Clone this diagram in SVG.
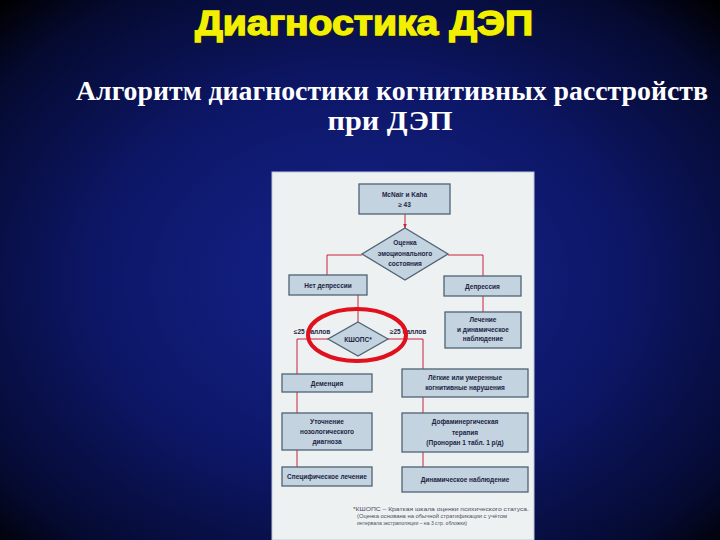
<svg xmlns="http://www.w3.org/2000/svg" width="720" height="540" viewBox="0 0 720 540">
<defs>
<radialGradient id="bg" cx="50%" cy="52%" r="72%">
<stop offset="0" stop-color="#15238c"/>
<stop offset="0.5" stop-color="#0d1768"/>
<stop offset="0.85" stop-color="#050a30"/>
<stop offset="1" stop-color="#000000"/>
</radialGradient>
<marker id="arr" viewBox="0 0 10 10" refX="9" refY="5" markerWidth="5" markerHeight="5" orient="auto">
<path d="M0,1 L10,5 L0,9 z" fill="#c8233a"/>
</marker>
<style>
.box{fill:#c3d3df;stroke:#4e6373;stroke-width:1.3}
.t{font-family:"Liberation Sans",Arial,sans-serif;font-size:6.5px;font-weight:bold;fill:#1c2444;text-anchor:middle}
.c{fill:none;stroke:#c8233a;stroke-width:1}
.fn{font-family:"Liberation Sans",Arial,sans-serif;font-size:5px;fill:#4a5060}
</style>
</defs>
<rect x="0" y="0" width="720" height="540" fill="url(#bg)"/>

<g id="title">
<text x="364" y="35" font-family="'Liberation Sans',Arial,sans-serif" font-size="35" font-weight="bold" fill="#1a1a1a" stroke="#1a1a1a" stroke-width="1.4" text-anchor="middle" textLength="338" lengthAdjust="spacingAndGlyphs" opacity="0.6" transform="translate(1.5,1.5)">Диагностика ДЭП</text>
<text x="364" y="35" font-family="'Liberation Sans',Arial,sans-serif" font-size="35" font-weight="bold" fill="#f2f000" stroke="#f2f000" stroke-width="1.4" text-anchor="middle" textLength="338" lengthAdjust="spacingAndGlyphs">Диагностика ДЭП</text>
</g>
<g id="subtitle" font-family="'Liberation Serif','Times New Roman',serif" font-size="28" font-weight="bold" fill="#ffffff">
<text x="76" y="100" textLength="632" lengthAdjust="spacingAndGlyphs">Алгоритм диагностики когнитивных расстройств</text>
<text x="390" y="130" text-anchor="middle" textLength="125" lengthAdjust="spacingAndGlyphs">при ДЭП</text>
</g>

<rect id="panel" x="272" y="172" width="262" height="368" fill="#eef1f2" stroke="#b8c8d8" stroke-width="1"/>

<g id="connectors">
<line class="c" x1="405" y1="214" x2="405" y2="228" marker-end="url(#arr)"/>
<polyline class="c" points="362,255 327,255 327,275"/>
<polyline class="c" points="448,255 483,255 483,276"/>
<line class="c" x1="483" y1="296" x2="483" y2="312"/>
<line class="c" x1="358" y1="295" x2="358" y2="322"/>
<polyline class="c" points="328,339 297,339 297,374"/>
<polyline class="c" points="388,339 423,339 423,369"/>
<line class="c" x1="297" y1="392" x2="297" y2="413"/>
<line class="c" x1="423" y1="397" x2="423" y2="413"/>
<line class="c" x1="297" y1="450" x2="297" y2="467"/>
<line class="c" x1="423" y1="452" x2="423" y2="467"/>
</g>

<g id="n_mcnair">
<rect class="box" x="359" y="184" width="91" height="30"/>
<text class="t" x="404.5" y="197">McNair и Kaha</text>
<text class="t" x="404.5" y="207">≥ 43</text>
</g>
<g id="n_emotion">
<polygon class="box" points="405,228 448,254 405,280 362,254"/>
<text class="t" x="405" y="245">Оценка</text>
<text class="t" x="405" y="256">эмоционального</text>
<text class="t" x="405" y="266">состояния</text>
</g>
<g id="n_nodep">
<rect class="box" x="289" y="275" width="78" height="20"/>
<text class="t" x="328" y="287.5">Нет депрессии</text>
</g>
<g id="n_dep">
<rect class="box" x="444" y="276" width="77" height="20"/>
<text class="t" x="482.5" y="288.5">Депрессия</text>
</g>
<g id="n_treat">
<rect class="box" x="445" y="312" width="76" height="36"/>
<text class="t" x="483" y="322">Лечение</text>
<text class="t" x="483" y="331.5">и динамическое</text>
<text class="t" x="483" y="341">наблюдение</text>
</g>
<g id="n_kshops">
<polygon class="box" points="358,322 388,339 358,356 328,339"/>
<text class="t" x="358" y="341.5">КШОПС*</text>
</g>
<g id="labels">
<text class="t" x="312" y="334">≤25 баллов</text>
<text class="t" x="408" y="334">≥25 баллов</text>
</g>
<g id="n_dementia">
<rect class="box" x="282" y="374" width="90" height="18"/>
<text class="t" x="327" y="385.5">Деменция</text>
</g>
<g id="n_mild">
<rect class="box" x="402" y="369" width="126" height="28"/>
<text class="t" x="465" y="380">Лёгкие или умеренные</text>
<text class="t" x="465" y="390">когнитивные нарушения</text>
</g>
<g id="n_refine">
<rect class="box" x="282" y="413" width="90" height="37"/>
<text class="t" x="327" y="424">Уточнение</text>
<text class="t" x="327" y="434">нозологического</text>
<text class="t" x="327" y="444">диагноза</text>
</g>
<g id="n_dopa">
<rect class="box" x="402" y="413" width="126" height="39"/>
<text class="t" x="465" y="424">Дофаминергическая</text>
<text class="t" x="465" y="434.5">терапия</text>
<text class="t" x="465" y="445">(Проноран 1 табл. 1 р/д)</text>
</g>
<g id="n_specific">
<rect class="box" x="282" y="467" width="90" height="19"/>
<text class="t" x="327" y="479">Специфическое лечение</text>
</g>
<g id="n_dynamic">
<rect class="box" x="402" y="467" width="126" height="25"/>
<text class="t" x="465" y="481.5">Динамическое наблюдение</text>
</g>

<g id="footnote">
<text class="fn" x="353" y="511" textLength="176" lengthAdjust="spacingAndGlyphs">*КШОПС – Краткая шкала оценки психического статуса.</text>
<text class="fn" x="357" y="518" textLength="150" lengthAdjust="spacingAndGlyphs">(Оценка основана на обычной стратификации с учётом</text>
<text class="fn" x="357" y="525" textLength="110" lengthAdjust="spacingAndGlyphs">интервала экстраполяции – на 3 стр. обложки)</text>
</g>

<ellipse id="highlight" cx="357" cy="335" rx="49" ry="26" fill="none" stroke="#e0101c" stroke-width="4"/>
</svg>
